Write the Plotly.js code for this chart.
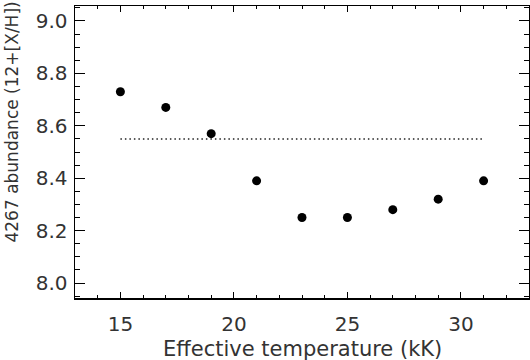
<!DOCTYPE html>
<html>
<head>
<meta charset="utf-8">
<script src="https://cdn.plot.ly/plotly-3.0.1.min.js"></script>
<style>
  html, body { margin: 0; padding: 0; background: #fff; }
  #fig { width: 530px; height: 360px; }
</style>
</head>
<body>
<div id="fig"></div>
<script>
// effective temperature (kK) and derived abundance from the 4267 line
var teff = [15, 17, 19, 21, 23, 25, 27, 29, 31];
var abund = [8.73, 8.67, 8.57, 8.39, 8.25, 8.25, 8.28, 8.32, 8.39];
// reference level drawn dotted
var refX = [15, 31];
var refY = [8.55, 8.55];
var xTicks = [15, 20, 25, 30];
var yTicks = [8.0, 8.2, 8.4, 8.6, 8.8, 9.0];
var yTickText = ["8.0", "8.2", "8.4", "8.6", "8.8", "9.0"];

var tickFont = { family: "DejaVu Sans, sans-serif", size: 20, color: "#333" };
var xTitleFont = { family: "DejaVu Sans, sans-serif", size: 21, color: "#333" };
var yTitleFont = { family: "DejaVu Sans, sans-serif", size: 17, color: "#333" };

var series = [
  { x: refX, y: refY, type: "scatter", mode: "lines",
    line: { color: "#222", width: 1.5, dash: "1.5px,3px" }, hoverinfo: "skip" },
  { x: teff, y: abund, type: "scatter", mode: "markers",
    marker: { color: "#000", size: 9 } }
];

var axisCommon = {
  showgrid: false, zeroline: false, showline: true, mirror: "ticks",
  linecolor: "#000", linewidth: 1.5,
  ticks: "inside", tickwidth: 1, tickcolor: "#000",
  tickfont: tickFont
};

var layout = {
  width: 530, height: 360,
  margin: { l: 75, r: 1, t: 6, b: 62 },
  paper_bgcolor: "#fff", plot_bgcolor: "#fff",
  showlegend: false,
  xaxis: Object.assign({}, axisCommon, {
    range: [13, 33], tickmode: "array", tickvals: xTicks,
    ticklen: 6, ticklabelstandoff: 7,
    minor: { dtick: 1, ticks: "inside", ticklen: 3, tickcolor: "#000" }
  }),
  yaxis: Object.assign({}, axisCommon, {
    range: [7.943, 9.057], tickmode: "array",
    tickvals: yTicks, ticktext: yTickText,
    ticklen: 10, ticklabelstandoff: 2,
    minor: { dtick: 0.05, tick0: 8.0, ticks: "inside", ticklen: 5, tickcolor: "#000" }
  }),
  annotations: [
    { text: "Effective temperature (kK)", xref: "paper", yref: "paper",
      x: 0.5, y: -0.175, xanchor: "center", yanchor: "middle",
      showarrow: false, font: xTitleFont },
    { text: "4267 abundance (12+[X/H])", xref: "paper", yref: "paper",
      x: -0.139, y: 0.604, xanchor: "center", yanchor: "middle",
      textangle: -90, showarrow: false, font: yTitleFont }
  ]
};

Plotly.newPlot("fig", series, layout, { staticPlot: true, displayModeBar: false });
</script>
</body>
</html>
